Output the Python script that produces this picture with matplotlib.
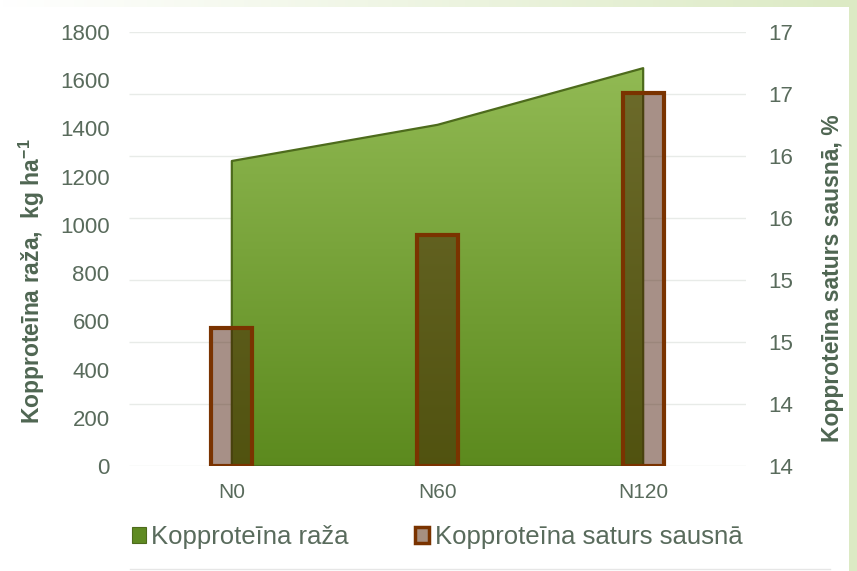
import numpy as np
import matplotlib.pyplot as plt
from matplotlib.colors import LinearSegmentedColormap
from matplotlib.patches import Rectangle
from matplotlib.lines import Line2D
from matplotlib.transforms import blended_transform_factory

categories = ["N0", "N60", "N120"]
yield_kg = [1265, 1415, 1650]            # Kopproteīna raža, kg/ha (left axis)
content_pct = [14.71, 15.46, 16.61]      # Kopproteīna saturs sausnā, % (right axis)
left_ticks = [0, 200, 400, 600, 800, 1000, 1200, 1400, 1600, 1800]
right_ticks = [13.6, 14.1, 14.6, 15.1, 15.6, 16.1, 16.6, 17.1]

TXT = "#596b5c"
LAB = "#4f6652"

plt.rcParams["font.family"] = ["Liberation Sans", "DejaVu Sans"]
plt.rcParams["mathtext.fontset"] = "custom"
plt.rcParams["mathtext.rm"] = "Liberation Sans"
plt.rcParams["mathtext.bf"] = "Liberation Sans:bold"


def main():
    fig = plt.figure(figsize=(8.57, 5.71), dpi=100)
    fig.patch.set_facecolor("white")

    # light green frame strips (top gradient, right side)
    strip = fig.add_axes([0, 1 - 7 / 571, 1, 7 / 571])
    strip.imshow(np.linspace(0, 1, 256)[None, :], aspect="auto",
                 cmap=LinearSegmentedColormap.from_list("s", ["#ffffff", "#dceac4"]),
                 extent=[0, 1, 0, 1])
    strip.axis("off")
    fig.patches.append(Rectangle((849 / 857, 0), 8 / 857, 1, transform=fig.transFigure,
                                 facecolor="#dceac4", edgecolor="none"))
    fig.lines.append(Line2D([130 / 857, 830 / 857], [1 - 569 / 571] * 2,
                            transform=fig.transFigure, color="#e6e6e6", lw=1))

    ax1 = fig.add_axes([129 / 857, 1 - 466 / 571, 617 / 857, 434 / 571])
    ax2 = ax1.twinx()
    x = np.arange(len(categories))

    # grid lines follow the right axis ticks, drawn below the area
    ax1.hlines(right_ticks, 0, 1, transform=blended_transform_factory(ax1.transAxes, ax2.transData),
               color="#e8ebe8", lw=1, zorder=0)

    # green area with vertical gradient
    poly = ax1.fill_between(x, yield_kg, 0, facecolor="none", edgecolor="#4d6b1c",
                            lw=1.6, zorder=2)
    cmap = LinearSegmentedColormap.from_list("g", ["#5c8a1e", "#96be58"])
    im = ax1.imshow(np.linspace(0, 1, 256)[:, None], origin="lower", aspect="auto", cmap=cmap,
                    extent=[x[0], x[-1], 0, left_ticks[-1]], zorder=1)
    im.set_clip_path(poly.get_paths()[0], transform=ax1.transData)

    ax1.set_xlim(-0.5, len(categories) - 0.5)
    ax1.set_ylim(left_ticks[0], left_ticks[-1])
    ax1.set_yticks(left_ticks)
    ax1.set_xticks(x)
    ax1.set_xticklabels(categories)
    ax1.tick_params(axis="y", length=0, pad=14, labelsize=16, labelcolor=TXT)
    ax1.tick_params(axis="x", length=0, pad=12, labelsize=15, labelcolor=TXT)

    # semi-transparent brown bars on right axis
    ax2.bar(x, np.array(content_pct) - right_ticks[0], bottom=right_ticks[0], width=0.2,
            facecolor=(0.27, 0.08, 0.0, 0.47), edgecolor="#7a3300", lw=3, zorder=3)
    ax2.set_ylim(right_ticks[0], right_ticks[-1])
    ax2.set_yticks(right_ticks)
    ax2.set_yticklabels([f"{t:.0f}" for t in right_ticks])
    ax2.tick_params(axis="y", length=0, pad=16, labelsize=16, labelcolor=TXT)

    for a in (ax1, ax2):
        for s in a.spines.values():
            s.set_visible(False)
    ax1.patch.set_visible(False)
    ax2.patch.set_visible(False)

    fig.text(32 / 857, 1 - 281 / 571, r"Kopproteīna raža,  kg ha$^{\mathbf{-1}}$", rotation=90,
             ha="center", va="center", fontsize=16.5, fontweight="bold", color=LAB)
    fig.text(832 / 857, 1 - 278 / 571, "Kopproteīna saturs sausnā, %", rotation=90,
             ha="center", va="center", fontsize=16.5, fontweight="bold", color=LAB)

    h1 = Rectangle((0, 0), 1, 1, facecolor="#5f8a22", edgecolor="#4d6b1c", lw=0.8)
    h2 = Rectangle((0, 0), 1, 1, facecolor="#a68f80", edgecolor="#7a3300", lw=2.5)
    fig.legend([h1, h2], ["Kopproteīna raža", "Kopproteīna saturs sausnā"], ncol=2,
               loc="center", bbox_to_anchor=(437 / 857, 1 - 537 / 571), frameon=False,
               fontsize=18.5, labelcolor=TXT, handlelength=0.55, handleheight=0.55,
               handletextpad=0.2, columnspacing=2.6)

    fig.savefig("out.png", dpi=100)


if __name__ == "__main__":
    main()
